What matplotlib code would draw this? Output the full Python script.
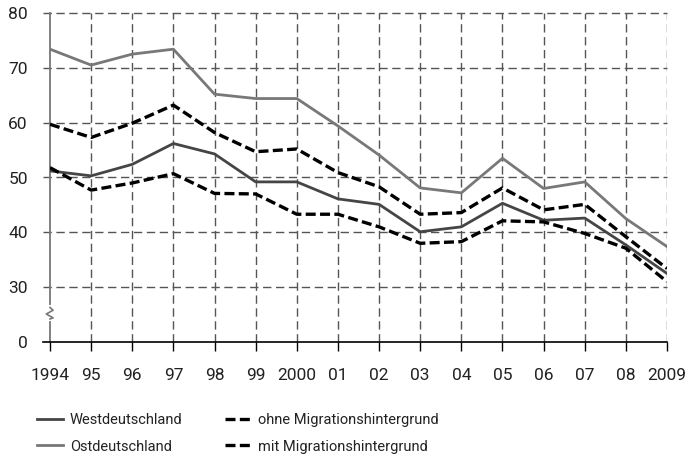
import matplotlib
matplotlib.use("Agg")
import matplotlib.pyplot as plt

# years on the x axis and their tick labels
years = list(range(1994, 2010))
year_labels = ["1994", "95", "96", "97", "98", "99", "2000", "01", "02",
               "03", "04", "05", "06", "07", "08", "2009"]

# series values (percent)
west = [51.2, 50.3, 52.4, 56.2, 54.3, 49.2, 49.2, 46.1, 45.1, 40.1, 41.0,
        45.3, 42.2, 42.6, 37.7, 32.5]
ost = [73.4, 70.5, 72.5, 73.4, 65.2, 64.4, 64.4, 59.4, 54.1, 48.1, 47.2,
       53.5, 48.0, 49.2, 42.5, 37.4]
ohne = [59.7, 57.3, 59.9, 63.2, 58.2, 54.7, 55.2, 50.9, 48.3, 43.3, 43.6,
        48.1, 44.1, 45.1, 39.2, 33.4]
mit = [51.8, 47.7, 49.0, 50.7, 47.1, 47.0, 43.3, 43.3, 41.0, 38.0, 38.3,
       42.1, 41.9, 39.8, 37.1, 31.0]

# y axis: broken between 0 and 30, so 0 is drawn where 20 would sit
y_ticks = [20, 30, 40, 50, 60, 70, 80]
y_labels = ["0", "30", "40", "50", "60", "70", "80"]

plt.rcParams["font.family"] = ["Roboto", "DejaVu Sans"]

fig = plt.figure(figsize=(6.91, 4.61), dpi=100)
ax = fig.add_axes([50 / 691, 1 - 342 / 461, 617 / 691, 329 / 461])
ax.set_xlim(1994, 2009)
ax.set_ylim(20, 80)

grid_col = "#555555"
grid_dash = (6, 3.3)

# horizontal grid lines, running slightly left of the axis
for v in y_ticks[1:]:
    ax.plot([-0.011, 1], [v, v], transform=ax.get_yaxis_transform(),
            color=grid_col, lw=1.0, dashes=grid_dash, clip_on=False,
            zorder=1)
# vertical grid lines
for yr in years[1:]:
    ax.plot([yr, yr], [20, 80], color=grid_col, lw=1.0, dashes=grid_dash,
            zorder=1)

# base line at 0
ax.plot([-0.011, 1], [20, 20], transform=ax.get_yaxis_transform(),
        color="black", lw=1.2, clip_on=False, zorder=3)

l1, = ax.plot(years, west, color="#454545", lw=2.0, zorder=4,
              label="Westdeutschland")
l2, = ax.plot(years, ost, color="#787878", lw=2.0, zorder=4,
              label="Ostdeutschland")
l3, = ax.plot(years, ohne, color="black", lw=2.4, dashes=(3.0, 1.3), zorder=5,
              label="ohne Migrationshintergrund")
l4, = ax.plot(years, mit, color="black", lw=2.4, dashes=(3.0, 1.3), zorder=5,
              label="mit Migrationshintergrund")

for s in ["top", "right", "bottom"]:
    ax.spines[s].set_visible(False)
ax.spines["left"].set_color("#777777")
ax.spines["left"].set_linewidth(1.3)
ax.spines["left"].set_zorder(2)

# axis break mark on the left spine
tr = ax.get_yaxis_transform()
ax.plot([0, 0], [24.2, 26.3], transform=tr, color="white", lw=3,
        clip_on=False, zorder=6)
ax.plot([0, 0.005, -0.006, 0.005, 0], [26.3, 25.8, 25.1, 24.4, 24.2],
        transform=tr, color="#777777", lw=1.2, clip_on=False, zorder=7)

ax.set_xticks(years)
ax.set_xticklabels(year_labels)
ax.set_yticks(y_ticks)
ax.set_yticklabels(y_labels)
ax.tick_params(axis="x", length=6.5, width=1.0, color="black", pad=12,
               labelsize=12.5, labelcolor="#222222")
ax.tick_params(axis="y", length=0, pad=16, labelsize=12.5,
               labelcolor="#222222")

fig.legend(handles=[l1, l2, l3, l4], ncol=2, frameon=False, fontsize=10.5,
           loc="upper left", bbox_to_anchor=(24 / 691, 1 - 400 / 461),
           handlelength=1.8, handletextpad=0.45, columnspacing=2.9,
           labelspacing=0.85, labelcolor="#222222")

fig.savefig("out.png", dpi=100)
